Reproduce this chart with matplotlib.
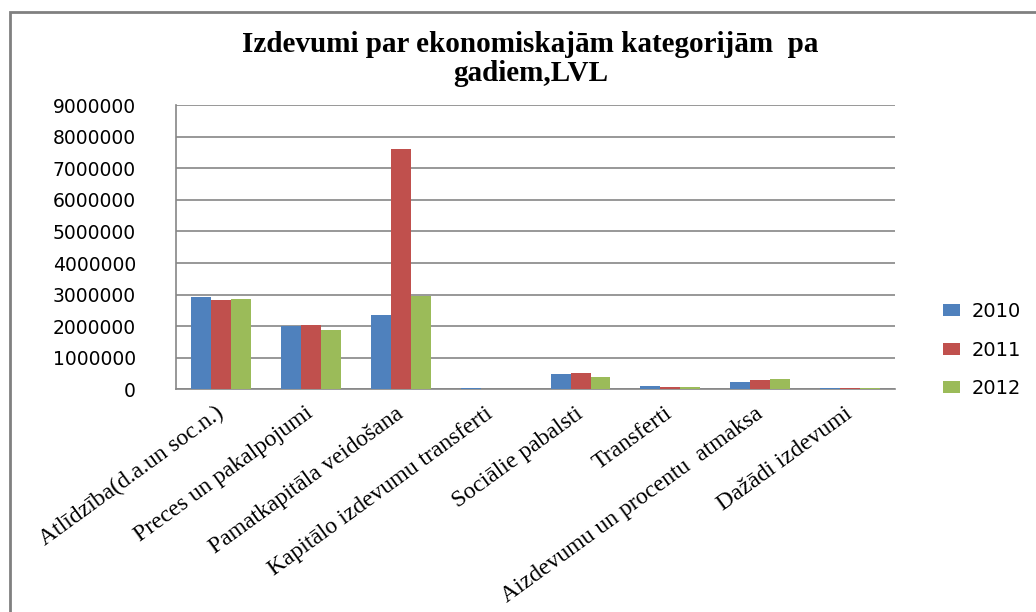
import numpy as np
import matplotlib.pyplot as plt
from matplotlib.patches import Rectangle

categories = ["Atlīdzība(d.a.un soc.n.)", "Preces un pakalpojumi",
              "Pamatkapitāla veidošana", "Kapitālo izdevumu transferti",
              "Sociālie pabalsti", "Transferti",
              "Aizdevumu un procentu  atmaksa", "Dažādi izdevumi"]
years = ["2010", "2011", "2012"]
v2010 = [2910000, 1990000, 2340000, 30000, 470000, 100000, 220000, 40000]
v2011 = [2820000, 2030000, 7600000, 0, 510000, 70000, 290000, 40000]
v2012 = [2850000, 1870000, 2970000, 0, 380000, 70000, 320000, 40000]
colors = ["#4F81BD", "#C0504D", "#9BBB59"]

fig = plt.figure(figsize=(10.36, 6.12), dpi=100)
ax = fig.add_axes([0.17, 0.364, 0.694, 0.464])

x = np.arange(len(categories))
w = 0.222
for i, (vals, col, yr) in enumerate(zip([v2010, v2011, v2012], colors, years)):
    ax.bar(x + (i - 1) * w, vals, w, color=col, label=yr, zorder=3)

ax.set_xlim(-0.5, len(categories) - 0.5)
ax.set_ylim(0, 9000000)
ax.set_yticks(np.arange(0, 9000001, 1000000))
ax.set_yticklabels([str(int(v)) for v in np.arange(0, 9000001, 1000000)],
                   fontsize=13.5, family="DejaVu Sans")
ax.yaxis.grid(True, color="#868686", linewidth=1.2, zorder=0)
ax.tick_params(axis="y", length=0, pad=29)
ax.tick_params(axis="x", length=0, pad=16)
ax.set_xticks(x)
ax.set_xticklabels(categories, rotation=36, ha="right", va="center",
                   rotation_mode="anchor", fontsize=17, family="Liberation Serif")
for s in ["top", "right"]:
    ax.spines[s].set_visible(False)
for s in ["left", "bottom"]:
    ax.spines[s].set_color("#868686")
    ax.spines[s].set_linewidth(1.2)

fig.text(0.512, 0.903, "Izdevumi par ekonomiskajām kategorijām  pa\ngadiem,LVL",
         ha="center", va="center", fontsize=21, fontweight="bold",
         family="Liberation Serif", linespacing=1.1)

leg = fig.legend(loc="center left", bbox_to_anchor=(0.893, 0.428), frameon=False,
                 fontsize=14, handlelength=0.9, handleheight=0.6,
                 labelspacing=1.0, handletextpad=0.6)

fig.patches.append(Rectangle((10 / 1036, -0.1), 1.2, 1.1 - 12 / 612,
                             transform=fig.transFigure, fill=False,
                             edgecolor="#808080", linewidth=2))

fig.savefig("out.png", dpi=100)
